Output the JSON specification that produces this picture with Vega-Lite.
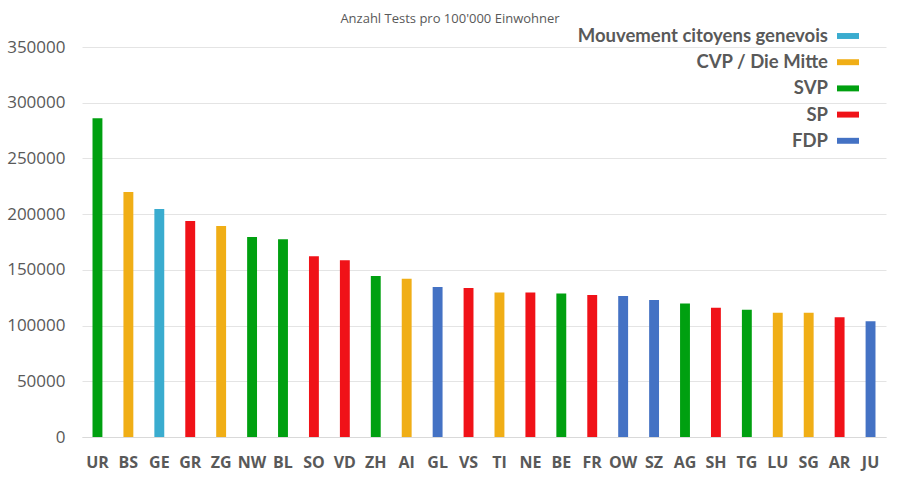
{
  "$schema": "https://vega.github.io/schema/vega-lite/v6.json",
  "autosize": {"type": "none"},
  "width": 804,
  "height": 390,
  "padding": {"left": 82, "top": 47, "right": 14, "bottom": 43},
  "background": "white",
  "title": {
    "text": "Anzahl Tests pro 100'000 Einwohner",
    "font": "Open Sans",
    "fontSize": 13,
    "fontWeight": "normal",
    "color": "#595959",
    "anchor": "middle",
    "frame": "group",
    "dx": -34,
    "offset": -1
  },
  "data": {
    "values": [
      {"kanton": "UR", "tests": 286100, "partei": "SVP"},
      {"kanton": "BS", "tests": 219800, "partei": "CVP / Die Mitte"},
      {"kanton": "GE", "tests": 204600, "partei": "Mouvement citoyens genevois"},
      {"kanton": "GR", "tests": 193800, "partei": "SP"},
      {"kanton": "ZG", "tests": 189300, "partei": "CVP / Die Mitte"},
      {"kanton": "NW", "tests": 179500, "partei": "SVP"},
      {"kanton": "BL", "tests": 177400, "partei": "SVP"},
      {"kanton": "SO", "tests": 162200, "partei": "SP"},
      {"kanton": "VD", "tests": 158600, "partei": "SP"},
      {"kanton": "ZH", "tests": 144500, "partei": "SVP"},
      {"kanton": "AI", "tests": 142100, "partei": "CVP / Die Mitte"},
      {"kanton": "GL", "tests": 134700, "partei": "FDP"},
      {"kanton": "VS", "tests": 133800, "partei": "SP"},
      {"kanton": "TI", "tests": 129600, "partei": "CVP / Die Mitte"},
      {"kanton": "NE", "tests": 129600, "partei": "SP"},
      {"kanton": "BE", "tests": 128700, "partei": "SVP"},
      {"kanton": "FR", "tests": 127500, "partei": "SP"},
      {"kanton": "OW", "tests": 126600, "partei": "FDP"},
      {"kanton": "SZ", "tests": 123000, "partei": "FDP"},
      {"kanton": "AG", "tests": 119700, "partei": "SVP"},
      {"kanton": "SH", "tests": 116100, "partei": "SP"},
      {"kanton": "TG", "tests": 114100, "partei": "SVP"},
      {"kanton": "LU", "tests": 111400, "partei": "CVP / Die Mitte"},
      {"kanton": "SG", "tests": 111400, "partei": "CVP / Die Mitte"},
      {"kanton": "AR", "tests": 107500, "partei": "SP"},
      {"kanton": "JU", "tests": 103900, "partei": "FDP"}
    ]
  },
  "mark": {"type": "bar"},
  "encoding": {
    "x": {
      "field": "kanton",
      "type": "nominal",
      "sort": null,
      "scale": {"paddingInner": 0.68, "paddingOuter": 0.34},
      "axis": {
        "title": null,
        "labelAngle": 0,
        "labelFont": "Open Sans",
        "labelFontSize": 16,
        "labelFontWeight": "bold",
        "labelColor": "#595959",
        "labelPadding": 17,
        "ticks": false,
        "domainColor": "#d9d9d9",
        "domainWidth": 1
      }
    },
    "y": {
      "field": "tests",
      "type": "quantitative",
      "scale": {"domain": [0, 350000], "nice": false},
      "axis": {
        "title": null,
        "values": [0, 50000, 100000, 150000, 200000, 250000, 300000, 350000],
        "format": "d",
        "labelFont": "Open Sans",
        "labelFontSize": 17,
        "labelColor": "#595959",
        "labelPadding": 17,
        "ticks": false,
        "domain": false,
        "gridColor": "#e4e4e4",
        "gridWidth": 1
      }
    },
    "color": {
      "field": "partei",
      "type": "nominal",
      "scale": {
        "domain": ["Mouvement citoyens genevois", "CVP / Die Mitte", "SVP", "SP", "FDP"],
        "range": ["#3AACCF", "#F0AE16", "#00A010", "#F01218", "#4472C4"]
      },
      "legend": {
        "title": null,
        "orient": "none",
        "legendX": 755,
        "legendY": -22,
        "symbolType": "M-1,-0.27L1,-0.27L1,0.27L-1,0.27Z",
        "symbolSize": 484,
        "symbolStrokeWidth": 0,
        "labelAlign": "right",
        "labelOffset": -31,
        "labelFont": "Lato",
        "labelFontSize": 18.5,
        "labelFontWeight": "bold",
        "labelColor": "#595959",
        "labelLimit": 400,
        "rowPadding": 5.2
      }
    }
  },
  "config": {
    "view": {"stroke": null}
  }
}
